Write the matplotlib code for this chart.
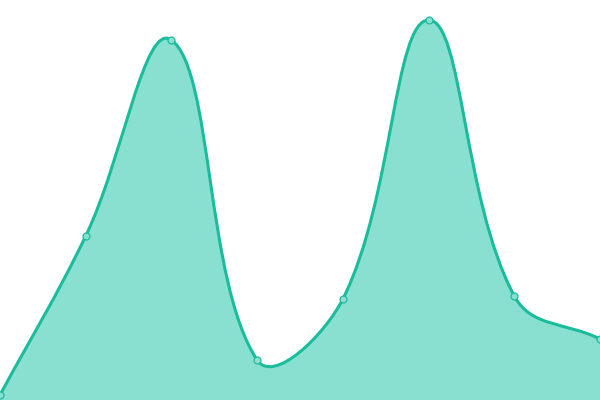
import numpy as np
import matplotlib
matplotlib.use("Agg")
import matplotlib.pyplot as plt
from matplotlib.path import Path
from matplotlib.patches import PathPatch

# data
x_vals = [0, 1, 2, 3, 4, 5, 6, 7]
y_vals = [5, 164, 360, 40, 101, 380, 104, 61]

line_color = "#1abc9c"
fill_color = "#8ae0d0"
tension = 0.4
x_px = 600 / 7  # pixels per x unit (y units are already 1 px)


def spline_controls(xs, ys):
    """Bezier control points, the same rule as a tension spline through the points."""
    pts = np.column_stack([xs, ys]).astype(float)
    scale = np.array([x_px, 1.0])
    n = len(pts)
    before, after = [], []
    for i in range(n):
        prev = pts[i - 1] if i > 0 else pts[i]
        cur = pts[i]
        nxt = pts[i + 1] if i < n - 1 else pts[i]
        d01 = np.hypot(*((cur - prev) * scale))
        d12 = np.hypot(*((nxt - cur) * scale))
        tot = d01 + d12
        s01 = d01 / tot if tot else 0
        s12 = d12 / tot if tot else 0
        before.append(cur - tension * s01 * (nxt - prev))
        after.append(cur + tension * s12 * (nxt - prev))
    return pts, before, after


pts, before, after = spline_controls(x_vals, y_vals)
verts = [tuple(pts[0])]
codes = [Path.MOVETO]
for i in range(1, len(pts)):
    verts += [tuple(after[i - 1]), tuple(before[i]), tuple(pts[i])]
    codes += [Path.CURVE4] * 3

fill_verts = verts + [(x_vals[-1], 0), (x_vals[0], 0), verts[0]]
fill_codes = codes + [Path.LINETO, Path.LINETO, Path.CLOSEPOLY]

fig = plt.figure(figsize=(6, 4), dpi=100)
ax = fig.add_axes([0, 0, 1, 1])
ax.add_patch(PathPatch(Path(fill_verts, fill_codes), facecolor=fill_color,
                       edgecolor="none"))
ax.add_patch(PathPatch(Path(verts, codes), facecolor="none",
                       edgecolor=line_color, linewidth=2.2))
ax.plot(x_vals, y_vals, linestyle="none", marker="o", markersize=5,
        markerfacecolor=fill_color, markeredgecolor=line_color,
        markeredgewidth=0.9)
ax.set_xlim(0, 7)
ax.set_ylim(0, 400)
ax.axis("off")

fig.savefig("out.png", dpi=100)
